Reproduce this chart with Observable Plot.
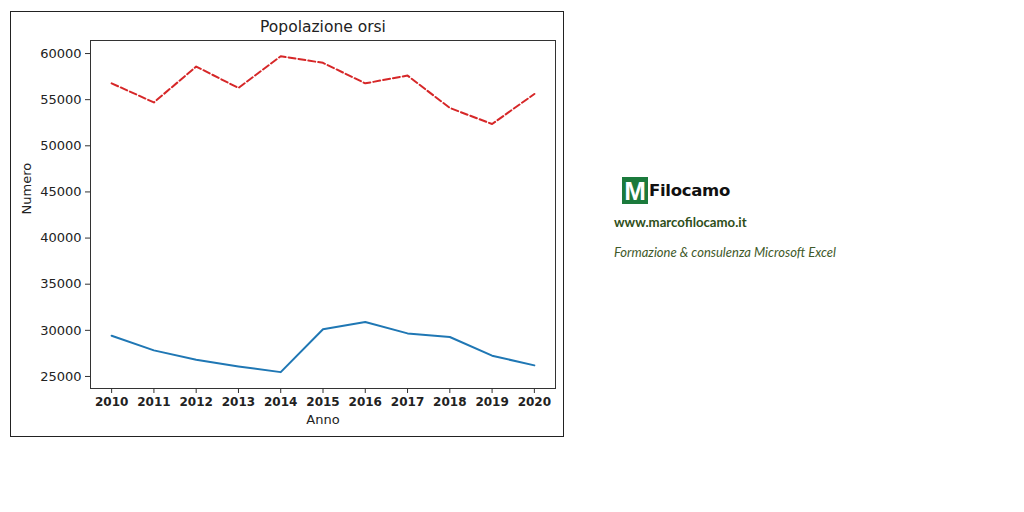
<!DOCTYPE html>
<html>
<head>
<meta charset="utf-8">
<script src="https://cdn.jsdelivr.net/npm/d3@7"></script>
<script src="https://cdn.jsdelivr.net/npm/@observablehq/plot@0.6"></script>
<style>
  html, body { margin: 0; padding: 0; background: #fff; }
  body { width: 1024px; height: 512px; position: relative; overflow: hidden; font-family: "DejaVu Sans", sans-serif; }
  #box { position: absolute; left: 10px; top: 11px; width: 552px; height: 424px; border: 1px solid #222; }
  #title { position: absolute; left: 212px; width: 200px; top: 6px; text-align: center; font-size: 15.5px; color: #222; }
  #chart { position: absolute; left: 0; top: 0; }
  #logo { position: absolute; left: 622px; top: 177px; }
  .sq { position: absolute; left: 0; top: 0; width: 26px; height: 27px; background: #1b7a3c; color: #fff;
        font-family: "Liberation Sans", Arial, sans-serif; font-weight: bold; font-size: 26px; line-height: 28px; text-align: center; }
  .fn { position: absolute; left: 27px; top: 0px; font-family: "DejaVu Sans", sans-serif; font-weight: bold; font-size: 16.5px; color: #111; line-height: 27px; letter-spacing: -0.3px; }
  #url { position: absolute; left: 614px; top: 214px; font-family: Lato, "Open Sans", sans-serif; font-weight: bold; font-size: 13.2px; color: #2f4f1a; }
  #tag { position: absolute; left: 614px; top: 244px; font-family: Lato, "Open Sans", sans-serif; font-style: italic; font-size: 13px; color: #3f5a2a; }
</style>
</head>
<body>
<div id="box">
  <div id="chart"></div>
  <div id="title">Popolazione orsi</div>
</div>
<div id="logo"><div class="sq">M</div><div class="fn">Filocamo</div></div>
<div id="url">www.marcofilocamo.it</div>
<div id="tag">Formazione &amp; consulenza Microsoft Excel</div>
<script>
const anni = [2010, 2011, 2012, 2013, 2014, 2015, 2016, 2017, 2018, 2019, 2020];
const serieRossa = [56770, 54700, 58590, 56270, 59710, 58990, 56770, 57610, 54100, 52360, 55620];
const serieBlu = [29420, 27830, 26810, 26090, 25470, 30110, 30900, 29670, 29280, 27250, 26200];
const yTicks = [25000, 30000, 35000, 40000, 45000, 50000, 55000, 60000];

const rossa = anni.map((a, i) => ({anno: a, valore: serieRossa[i]}));
const blu = anni.map((a, i) => ({anno: a, valore: serieBlu[i]}));

const plot = Plot.plot({
  width: 552,
  height: 424,
  marginLeft: 79,
  marginRight: 8,
  marginTop: 28,
  marginBottom: 48,
  style: { fontFamily: "DejaVu Sans, sans-serif", fontSize: "13px", color: "#222", background: "transparent" },
  x: { domain: [2009.5, 2020.5], label: null },
  y: { domain: [23696, 61413], label: null },
  marks: [
    Plot.frame({ stroke: "#333", strokeWidth: 1 }),
    Plot.axisY({ ticks: yTicks, tickSize: 5, tickPadding: 4, tickFormat: d => String(d), fontSize: 13, stroke: "#333", label: null }),
    Plot.axisX({ ticks: anni, tickSize: 5, tickPadding: 4, tickFormat: d => String(d), fontSize: 12, fontWeight: "bold", stroke: "#333", label: null }),
    Plot.line(rossa, { x: "anno", y: "valore", stroke: "#d62728", strokeWidth: 2, strokeDasharray: "7,3" }),
    Plot.line(blu, { x: "anno", y: "valore", stroke: "#1f77b4", strokeWidth: 2 }),
    Plot.text(["Anno"], { frameAnchor: "bottom", dy: 35, fontSize: 13, fill: "#222" }),
    Plot.text(["Numero"], { frameAnchor: "left", dx: -64, rotate: -90, fontSize: 13, fill: "#222" })
  ]
});
document.getElementById("chart").appendChild(plot);
</script>
</body>
</html>
